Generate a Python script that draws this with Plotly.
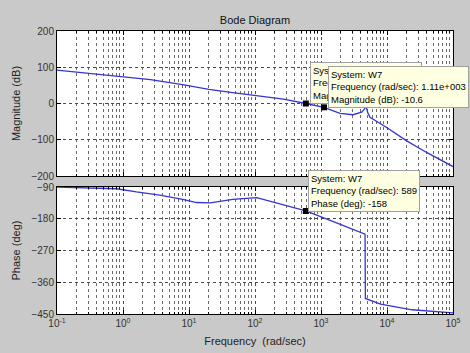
import plotly.graph_objects as go

# ---- data ----
mag_freq = [0.1, 0.25, 1, 2.6, 8, 20, 46, 100, 270, 589, 1110, 1940, 3050, 4140,
            4600, 4800, 5100, 5520, 9880, 19900, 39800, 100000]
mag_db = [92, 85, 75, 66, 52, 39, 30, 22, 12, 0, -10.6, -27, -31, -24,
          -14, -6, -25, -38, -66, -103, -135, -174]

ph_freq = [0.1, 0.4, 0.8, 1.6, 3.6, 8, 13, 21, 46, 106, 214, 589, 1540, 4650,
           4700, 8000, 24000, 78000, 100000]
ph_deg = [-90, -92, -95, -104, -113, -125, -134, -135, -125, -120, -135, -158, -188, -224,
          -406, -422, -438, -445, -447]

tip_mag_freq = [589, 1110]
tip_mag_db = [0, -10.6]
tip_ph_freq = [589]
tip_ph_deg = [-158]

xtick_vals = [0.1, 1, 10, 100, 1000, 10000, 100000]
xtick_text = ["10<sup>-1</sup>", "10<sup>0</sup>", "10<sup>1</sup>", "10<sup>2</sup>",
              "10<sup>3</sup>", "10<sup>4</sup>", "10<sup>5</sup>"]
mag_ticks = [-200, -100, 0, 100, 200]
ph_ticks = [-450, -360, -270, -180, -90]

W, H = 470, 353
BG = "#c9c9c9"
LINE = "#3535d2"
FONT = "Liberation Sans"

fig = go.Figure()
fig.add_trace(go.Scatter(x=mag_freq, y=mag_db, mode="lines", line=dict(color=LINE, width=1.3),
                         xaxis="x", yaxis="y", showlegend=False))
fig.add_trace(go.Scatter(x=ph_freq, y=ph_deg, mode="lines", line=dict(color=LINE, width=1.3),
                         xaxis="x2", yaxis="y2", showlegend=False))
fig.add_trace(go.Scatter(x=tip_mag_freq, y=tip_mag_db, mode="markers",
                         marker=dict(symbol="square", size=6, color="black"),
                         xaxis="x", yaxis="y", showlegend=False))
fig.add_trace(go.Scatter(x=tip_ph_freq, y=tip_ph_deg, mode="markers",
                         marker=dict(symbol="square", size=6, color="black"),
                         xaxis="x2", yaxis="y2", showlegend=False))

xdom = [57 / W, 453 / W]
ydom_top = [(H - 176) / H, (H - 31) / H]
ydom_bot = [(H - 314) / H, (H - 187) / H]

grid = dict(showgrid=True, gridcolor="#4a4a4a", griddash="dot", gridwidth=1)
common_x = dict(type="log", range=[-1, 5], tickvals=xtick_vals, ticktext=xtick_text,
                ticks="inside", ticklen=4, tickcolor="black", showline=True, linecolor="black",
                mirror="ticks", zeroline=False, automargin=False,
                minor=dict(dtick="D1", showgrid=True, gridcolor="#6a6a6a", griddash="dot",
                           ticks="inside", ticklen=2, tickcolor="black"),
                tickfont=dict(family=FONT, size=10, color="#333333"), **grid)

fig.update_layout(
    width=W, height=H, margin=dict(l=0, r=0, t=0, b=0),
    paper_bgcolor=BG, plot_bgcolor="white",
    font=dict(family=FONT, size=10, color="#222222"),
    xaxis=dict(domain=xdom, anchor="y", showticklabels=False, **common_x),
    yaxis=dict(domain=ydom_top, anchor="x", range=[-200, 200], tickvals=mag_ticks,
               ticks="inside", ticklen=4, tickcolor="black", showline=True, linecolor="black",
               mirror="ticks", zeroline=False, automargin=False,
               tickfont=dict(family=FONT, size=10, color="#333333"),
               title=dict(text="Magnitude (dB)", font=dict(family=FONT, size=11, color="#222222"),
                          standoff=8), **grid),
    xaxis2=dict(domain=xdom, anchor="y2",
                title=dict(text="Frequency&nbsp; (rad/sec)", font=dict(family=FONT, size=11, color="#222222"),
                           standoff=9), **common_x),
    yaxis2=dict(domain=ydom_bot, anchor="x2", range=[-450, -90], tickvals=ph_ticks,
                ticks="inside", ticklen=4, tickcolor="black", showline=True, linecolor="black",
                mirror="ticks", zeroline=False, automargin=False,
                tickfont=dict(family=FONT, size=10, color="#333333"),
                title=dict(text="Phase (deg)", font=dict(family=FONT, size=11, color="#222222"),
                           standoff=8), **grid),
    title=dict(text="Bode Diagram", x=255 / W, xanchor="center", y=1 - 20 / H, yanchor="middle",
               font=dict(family=FONT, size=11, color="#111111"), automargin=False),
)

tip_style = dict(xref="paper", yref="paper", xanchor="left", yanchor="top", showarrow=False,
                 align="left", bgcolor="#ffffe1", bordercolor="#a0a0a0", borderwidth=1, borderpad=2,
                 font=dict(family=FONT, size=9.5, color="black"))
fig.add_annotation(x=310 / W, y=1 - 62 / H,
                   text="System: W7<br>Frequency (rad/sec): 589<br>Magnitude (dB): 0.05", **tip_style)
fig.add_annotation(x=328 / W, y=1 - 66 / H,
                   text="System: W7<br>Frequency (rad/sec): 1.11e+003<br>Magnitude (dB): -10.6", **tip_style)
fig.add_annotation(x=308 / W, y=1 - 170 / H,
                   text="System: W7<br>Frequency (rad/sec): 589<br>Phase (deg): -158", **tip_style)

fig.write_html("out.html")
